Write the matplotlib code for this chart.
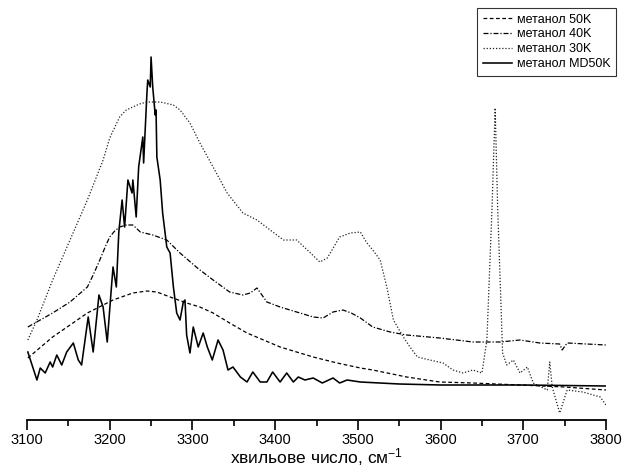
import matplotlib
matplotlib.use("Agg")
import matplotlib.pyplot as plt
from matplotlib.ticker import MultipleLocator

plt.rcParams['font.family'] = ['Liberation Sans', 'DejaVu Sans']
plt.rcParams['mathtext.default'] = 'regular'

# ---- data (wavenumber, arbitrary intensity) ----
md50_x = [3101, 3112, 3116, 3122, 3128, 3131, 3136, 3142, 3148, 3156, 3162, 3166, 3174, 3180,
          3187, 3192, 3197, 3202, 3204, 3208, 3211, 3215, 3218, 3222, 3227, 3228, 3232, 3235,
          3240, 3241, 3245, 3246, 3249, 3250, 3252, 3255, 3256, 3257, 3261, 3264, 3269, 3273,
          3277, 3281, 3285, 3289, 3291, 3293, 3297, 3301, 3307, 3313, 3318, 3324, 3331, 3337,
          3343, 3349, 3358, 3366, 3373, 3382, 3390, 3397, 3406, 3414, 3422, 3428, 3436, 3446,
          3457, 3470, 3478, 3487, 3503, 3550, 3600, 3700, 3800]
md50_y = [68, 40, 52, 47, 58, 53, 65, 55, 68, 77, 60, 55, 103, 68,
          125, 113, 78, 132, 153, 133, 188, 220, 193, 240, 227, 240, 203, 253,
          283, 257, 327, 340, 333, 363, 333, 305, 310, 263, 240, 207, 173, 167,
          133, 107, 100, 118, 120, 85, 67, 93, 73, 87, 73, 60, 80, 70,
          50, 53, 43, 38, 48, 38, 38, 48, 38, 47, 38, 43, 40, 42,
          37, 42, 37, 40, 38, 36, 35, 35, 34]

k50_x = [3101, 3131, 3173, 3204, 3228, 3245, 3257, 3273, 3293, 3309, 3325, 3345, 3366, 3386,
         3406, 3426, 3446, 3475, 3503, 3518, 3559, 3599, 3639, 3696, 3750, 3800]
k50_y = [62, 83, 107, 120, 127, 129, 128, 123, 117, 113, 107, 97, 87, 80,
         73, 68, 63, 57, 52, 50, 43, 38, 37, 35, 33, 30]

k40_x = [3101, 3131, 3152, 3173, 3180, 3188, 3195, 3200, 3206, 3212, 3220, 3228, 3237, 3252,
         3269, 3285, 3306, 3325, 3345, 3361, 3370, 3378, 3384, 3390, 3406, 3426, 3446, 3458,
         3470, 3482, 3492, 3503, 3518, 3539, 3559, 3599, 3639, 3672, 3696, 3720, 3744, 3747,
         3753, 3800]
k40_y = [93, 107, 118, 133, 145, 160, 174, 183, 189, 193, 195, 195, 188, 185,
         180, 167, 152, 140, 128, 125, 127, 132, 125, 118, 113, 108, 103, 102,
         108, 110, 107, 102, 93, 88, 85, 82, 78, 78, 80, 77, 76, 70,
         77, 75]

k30_x = [3101, 3112, 3131, 3152, 3173, 3192, 3200, 3212, 3220, 3228, 3236, 3245, 3261, 3277,
         3285, 3297, 3309, 3325, 3342, 3361, 3378, 3394, 3410, 3426, 3439, 3454, 3463, 3478,
         3491, 3503, 3511, 3518, 3527, 3535, 3543, 3555, 3563, 3572, 3587, 3603, 3615, 3627,
         3639, 3650, 3656, 3662, 3666, 3669, 3675, 3680, 3688, 3696, 3705, 3712, 3729, 3732,
         3735, 3744, 3753, 3772, 3793, 3800]
k30_y = [80, 100, 140, 180, 220, 260, 282, 303, 310, 313, 316, 318, 318, 315,
         310, 297, 277, 253, 227, 207, 200, 190, 180, 180, 170, 158, 162, 183,
         187, 188, 177, 170, 160, 133, 100, 83, 73, 63, 60, 57, 50, 47,
         50, 47, 80, 207, 312, 213, 67, 55, 60, 47, 53, 37, 30, 58,
         33, 7, 30, 28, 23, 15]

labels = ['метанол 50K', 'метанол 40K', 'метанол 30K', 'метанол MD50K']
xlabel = 'хвильове число, см$^{-1}$'

fig = plt.figure(figsize=(6.22, 4.71), dpi=100)
ax = fig.add_axes([27/622, 51/471, 579/622, 420/471])

ax.plot(k50_x, k50_y, color='black', lw=0.9, linestyle=(0, (3, 2)), label=labels[0])
ax.plot(k40_x, k40_y, color='black', lw=0.9, linestyle=(0, (4, 1.5, 1, 1.5)), label=labels[1])
ax.plot(k30_x, k30_y, color='#222222', lw=0.9, linestyle=(0, (1, 1.5)), label=labels[2])
ax.plot(md50_x, md50_y, color='black', lw=1.15, linestyle='-', label=labels[3])

ax.set_xlim(3100, 3800)
ax.set_ylim(0, 420)
for s in ['left', 'right', 'top']:
    ax.spines[s].set_visible(False)
ax.spines['bottom'].set_linewidth(1.3)
ax.set_yticks([])
ax.xaxis.set_major_locator(MultipleLocator(100))
ax.xaxis.set_minor_locator(MultipleLocator(50))
ax.tick_params(axis='x', which='major', direction='out', length=7, width=1.2, labelsize=10.5, pad=2)
ax.tick_params(axis='x', which='minor', direction='out', length=4, width=1.2)
ax.set_xlabel(xlabel, fontsize=12.5, labelpad=0)

leg = ax.legend(loc='upper right', bbox_to_anchor=(616/622, 1 - 8/471),
                bbox_transform=fig.transFigure, fontsize=9, frameon=True,
                fancybox=False, handlelength=2.3, labelspacing=0.22,
                borderpad=0.45, handletextpad=0.4, borderaxespad=0)
leg.get_frame().set_edgecolor('black')
leg.get_frame().set_linewidth(0.8)

fig.savefig('out.png', dpi=100)
